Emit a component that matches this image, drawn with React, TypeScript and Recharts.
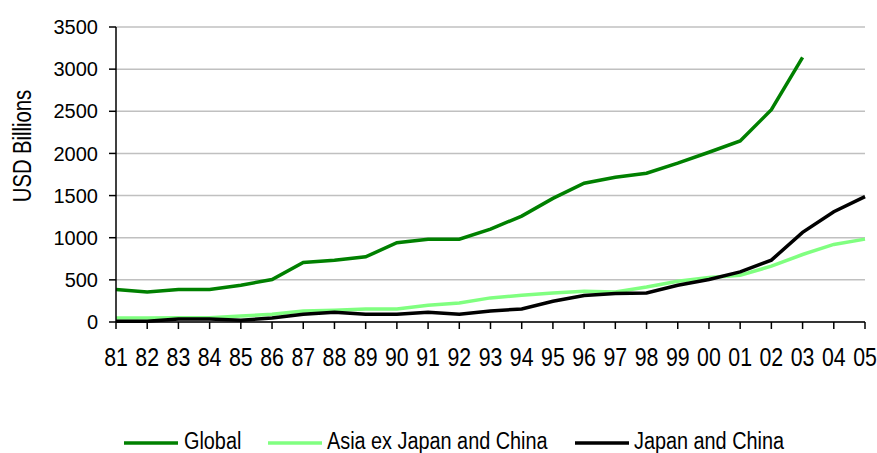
import React from "react";
import { LineChart, Line, XAxis, YAxis, CartesianGrid, Legend } from "recharts";

const YEARS = ["81","82","83","84","85","86","87","88","89","90","91","92","93","94","95","96","97","98","99","00","01","02","03","04","05"];
const GLOBAL = [385, 357, 385, 385, 436, 504, 706, 734, 773, 940, 983, 983, 1102, 1257, 1467, 1646, 1717, 1765, 1884, 2014, 2149, 2518, 3140, null, null];
const ASIA_EX = [48, 48, 50, 50, 71, 92, 131, 139, 155, 155, 199, 226, 286, 318, 345, 365, 357, 416, 484, 528, 555, 662, 801, 920, 983];
const JAPAN_CHINA = [8, 8, 36, 36, 20, 48, 92, 115, 92, 92, 115, 92, 131, 155, 246, 314, 338, 345, 436, 504, 595, 734, 1063, 1308, 1487];
const Y_TICKS = [0, 500, 1000, 1500, 2000, 2500, 3000, 3500];

const SERIES = [
  { key: "global", name: "Global", color: "#008000" },
  { key: "asia", name: "Asia ex Japan and China", color: "#80FF80" },
  { key: "jc", name: "Japan and China", color: "#000000" },
];

const data = YEARS.map((y, i) => ({
  year: y,
  global: GLOBAL[i],
  asia: ASIA_EX[i],
  jc: JAPAN_CHINA[i],
}));

const FONT = '"Liberation Sans", Arial, sans-serif';

// the reference uses a condensed face; squeeze Liberation Sans horizontally
function XTick(props: any) {
  const { x, y, payload } = props;
  return (
    <text
      transform={`translate(${x},${y}) scale(0.82,1)`}
      textAnchor="middle"
      dy="0.71em"
      fontFamily={FONT}
      fontSize={26}
      fill="#000"
    >
      {payload.value}
    </text>
  );
}

// legend item offsets (line start, text start)
const LEGEND_POS = [
  [124, 184],
  [268, 327],
  [575, 634],
];

function LegendContent() {
  return (
    <svg width={877} height={30} style={{ display: "block" }}>
      {SERIES.map((s, i) => {
        const [lx, tx] = LEGEND_POS[i];
        return (
          <g key={s.key}>
            <line x1={lx} y1={18} x2={lx + 54} y2={18} stroke={s.color} strokeWidth={3.5} />
            <text
              transform={`translate(${tx},24) scale(0.81,1)`}
              fontFamily={FONT}
              fontSize={24.5}
              fill="#000"
            >
              {s.name}
            </text>
          </g>
        );
      })}
    </svg>
  );
}

export default function App() {
  return (
    <div style={{ position: "absolute", left: 0, top: 0, width: 877, height: 453, background: "#fff" }}>
      <LineChart width={877} height={453} data={data} margin={{ top: 27, right: 12, bottom: 91, left: 56 }}>
        <CartesianGrid vertical={false} stroke="#C0C0C0" strokeWidth={1.5} />
        <XAxis
          dataKey="year"
          stroke="#000"
          strokeWidth={1.5}
          tickSize={7}
          tickMargin={19}
          height={40}
          interval={0}
          tick={<XTick />}
        />
        <YAxis
          domain={[0, 3500]}
          ticks={Y_TICKS}
          width={60}
          stroke="#000"
          strokeWidth={1.5}
          tickSize={7}
          tickMargin={11}
          interval={0}
          tick={{ fill: "#000", fontSize: 20, fontFamily: FONT }}
        />
        {SERIES.map((s) => (
          <Line
            key={s.key}
            dataKey={s.key}
            name={s.name}
            stroke={s.color}
            strokeWidth={3.5}
            dot={false}
            type="linear"
            isAnimationActive={false}
          />
        ))}
        <Legend
          layout="horizontal"
          verticalAlign="middle"
          align="center"
          content={<LegendContent />}
          wrapperStyle={{ top: 425, left: 0, width: 877 }}
        />
      </LineChart>
      <svg width={50} height={300} style={{ position: "absolute", left: 0, top: 0, pointerEvents: "none" }}>
        <text
          transform="translate(22,146) rotate(-90) scale(0.81,1)"
          textAnchor="middle"
          dy="0.36em"
          fontFamily={FONT}
          fontSize={25}
          fill="#000"
        >
          USD Billions
        </text>
      </svg>
    </div>
  );
}
